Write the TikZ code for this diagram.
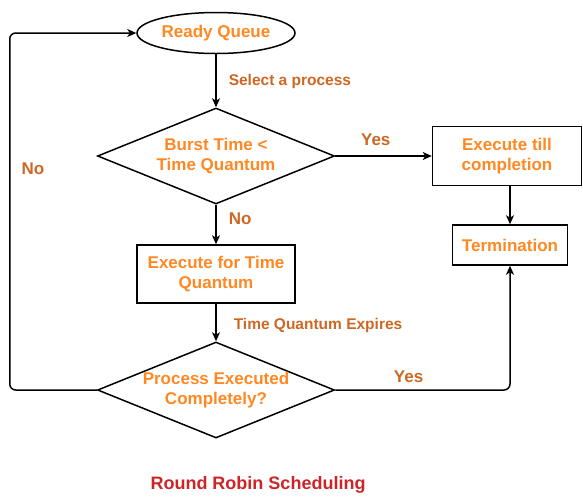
\documentclass[tikz,border=0pt]{standalone}
\usepackage{fontspec}
\setmainfont{Liberation Sans}
\usetikzlibrary{shapes.geometric,arrows.meta}
\definecolor{nodeorange}{RGB}{255,136,34}
\definecolor{laborange}{RGB}{204,104,36}
\definecolor{titlered}{RGB}{206,36,40}
\begin{document}
\begin{tikzpicture}[x=1pt,y=-1pt,
  every node/.style={font=\fontsize{17}{20}\selectfont\bfseries},
  base/.style={draw,line width=1.5pt,text=nodeorange,align=center,inner sep=0pt},
  oval/.style={base,ellipse,minimum width=158pt,minimum height=41pt},
  decision/.style={base,diamond,aspect=2.46,minimum width=237pt,minimum height=96pt},
  proc/.style={base,rectangle,minimum height=58pt},
  lab/.style={text=laborange,inner sep=0pt,font=\fontsize{15.5}{18}\selectfont\bfseries},
  biglab/.style={lab,font=\fontsize{17}{20}\selectfont\bfseries},
  conn/.style={line width=1.5pt,-{Stealth[length=9pt,width=8pt,inset=2.5pt]}}]
\useasboundingbox (0,0) rectangle (583,496);
\node[oval] (rq) at (216,33) {Ready Queue};
\node[decision] (d1) at (216,156) {Burst Time <\\Time Quantum};
\node[proc,minimum width=149pt,minimum height=59pt] (ex) at (507,156) {Execute till\\completion};
\node[proc,minimum width=115pt,minimum height=40pt] (term) at (510,245) {Termination};
\node[proc,minimum width=158pt] (eq) at (216,274) {Execute for Time\\Quantum};
\node[decision] (d2) at (216,390) {Process Executed\\Completely?};
\node[text=titlered,font=\fontsize{18}{20}\selectfont\bfseries] (title) at (258,485) {Round Robin Scheduling};
\draw[conn] (rq) -- node[lab,anchor=west,xshift=12pt,pos=0.45,yshift=-3pt] {Select a process} (d1);
\draw[conn] (d1) -- node[biglab,anchor=south,pos=0.42,yshift=10pt] {Yes} (ex);
\draw[conn] (d1) -- node[biglab,anchor=west,xshift=12pt,pos=0.33,yshift=-1pt] {No} (eq);
\draw[conn] (eq) -- node[lab,anchor=west,xshift=17pt,pos=0.5,yshift=-3pt] {Time Quantum Expires} (d2);
\draw[conn] (term.north |- ex.south) -- (term.north);
\draw[conn,rounded corners=6pt] (d2.west) -- ++(-87,0) |- node[biglab,anchor=west,xshift=11pt,pos=0.31] {No} (rq.west);
\draw[conn,rounded corners=6pt] (d2.east) -| node[biglab,anchor=south,pos=0.21,yshift=7pt] {Yes} (term.south);
\end{tikzpicture}
\end{document}
